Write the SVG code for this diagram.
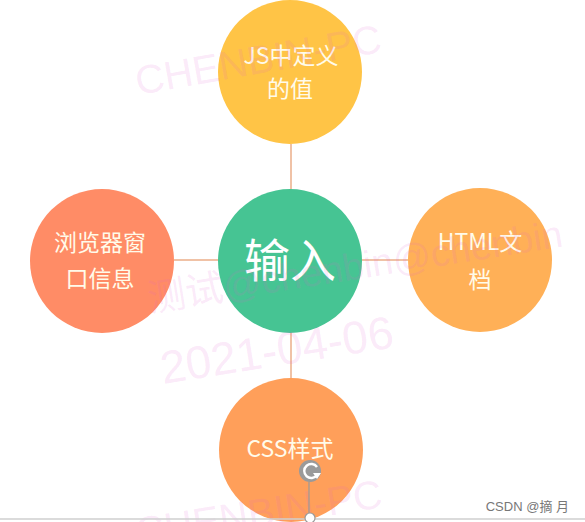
<svg xmlns="http://www.w3.org/2000/svg" width="585" height="522" viewBox="0 0 585 522">
<style>
.lbl{font-family:"Noto Sans CJK SC","Noto Sans",sans-serif;fill:#fffbea;text-anchor:middle;font-size:23px;}
.wm{font-family:"Liberation Sans","Noto Sans CJK SC",sans-serif;fill:#e060d0;fill-opacity:0.14;}
.conn{stroke:#f0c2a6;stroke-width:2;fill:none;}
</style>
<rect width="585" height="522" fill="#ffffff"/>
<g id="connectors">
<line class="conn" x1="174" y1="260" x2="408" y2="260"/>
<line class="conn" x1="291" y1="144" x2="291" y2="378"/>
</g>
<g id="node-top">
<circle cx="290" cy="72" r="72" fill="#ffc446"/>
<text class="lbl" x="291" y="64">JS中定义</text>
<text class="lbl" x="290" y="97">的值</text>
</g>
<g id="node-center">
<circle cx="290" cy="261" r="72" fill="#46c493"/>
<text class="lbl" x="290" y="277" style="font-size:46px;fill:#ffffff">输入</text>
</g>
<g id="node-left">
<circle cx="102" cy="261" r="72" fill="#ff8c66"/>
<text class="lbl" x="100" y="251">浏览器窗</text>
<text class="lbl" x="100" y="287">口信息</text>
</g>
<g id="node-right">
<circle cx="480" cy="260" r="72" fill="#ffb057"/>
<text class="lbl" x="480" y="250">HTML文</text>
<text class="lbl" x="480" y="288">档</text>
</g>
<g id="node-bottom">
<circle cx="291" cy="450" r="72" fill="#ff9f5a"/>
<text class="lbl" x="290" y="457">CSS样式</text>
</g>
<g id="watermarks">
<text class="wm" x="138" y="95" font-size="40" transform="rotate(-10 138 95)">CHENBIN-PC</text>
<text class="wm" x="150" y="312" font-size="38" transform="rotate(-9 150 312)" font-family="Noto Sans CJK SC, sans-serif">测试@chenbin@chenbin</text>
<text class="wm" x="163" y="384" font-size="46" transform="rotate(-9 163 384)">2021-04-06</text>
<text class="wm" x="138" y="546" font-size="40" transform="rotate(-9 138 546)">CHENBIN-PC</text>
</g>
<g id="rotate-handle">
<line x1="309" y1="482" x2="309" y2="514" stroke="#9a9a9a" stroke-width="1.2"/>
<circle cx="310" cy="471" r="11" fill="#9a9a9a"/>
<path d="M317 475 A7 7 0 1 1 317 467" fill="none" stroke="#ffffff" stroke-width="2.4"/>
<path d="M313 473 L321 473 L317 479 Z" fill="#ffffff"/>
<line x1="0" y1="519" x2="585" y2="519" stroke="#cfcfcf" stroke-width="1.5"/>
<circle cx="310" cy="518" r="5" fill="#ffffff" stroke="#9a9a9a" stroke-width="1.2"/>
</g>
<text x="569" y="511" font-family="Liberation Sans,Noto Sans CJK SC,sans-serif" font-size="13" fill="#777777" text-anchor="end">CSDN @摘 月</text>
</svg>
